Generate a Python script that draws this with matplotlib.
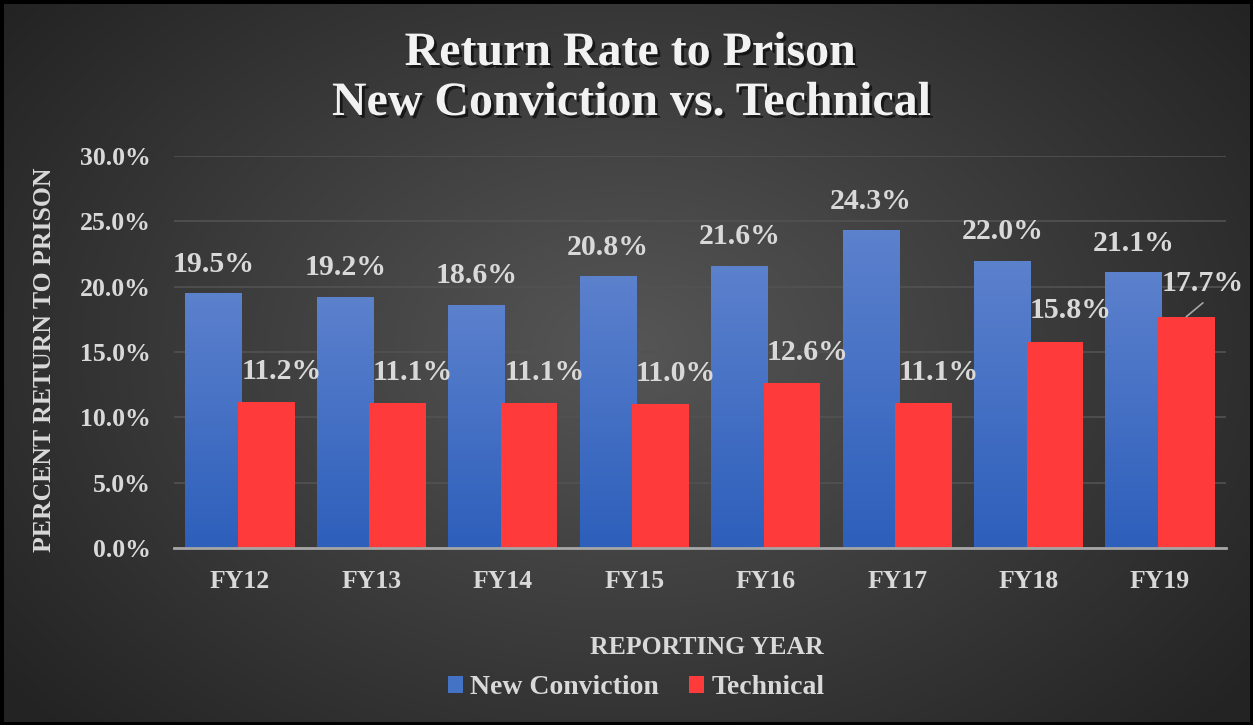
import numpy as np
import matplotlib
matplotlib.use("Agg")
import matplotlib.pyplot as plt
import matplotlib.patheffects as pe
from matplotlib.patches import Rectangle, Patch

# ---- data ----
categories = ["FY12", "FY13", "FY14", "FY15", "FY16", "FY17", "FY18", "FY19"]
new_conviction = [19.5, 19.2, 18.6, 20.8, 21.6, 24.3, 22.0, 21.1]
technical = [11.2, 11.1, 11.1, 11.0, 12.6, 11.1, 15.8, 17.7]
series_names = ["New Conviction", "Technical"]
yticks = [0, 5, 10, 15, 20, 25, 30]
title_lines = ["Return Rate to Prison", "New Conviction vs. Technical"]
xlabel = "REPORTING YEAR"
ylabel = "PERCENT RETURN TO PRISON"

plt.rcParams['font.family'] = ['Liberation Serif', 'DejaVu Serif']
plt.rcParams['font.weight'] = 'bold'
TXT = '#d9d9d9'
W, H = 1253, 725
fig = plt.figure(figsize=(W / 100, H / 100), dpi=100)

# background radial gradient
bg = fig.add_axes([0, 0, 1, 1])
yy, xx = np.mgrid[0:H, 0:W]
r = np.sqrt(((xx - 0.50 * W) / (0.62 * W)) ** 2 + ((yy - 0.48 * H) / (0.75 * H)) ** 2)
r = np.clip(r, 0, 1)
c0 = np.array([0x56, 0x56, 0x56]) / 255
c1 = np.array([0x24, 0x24, 0x24]) / 255
img = c0[None, None, :] * (1 - r[..., None]) + c1[None, None, :] * r[..., None]
bg.imshow(img, extent=[0, 1, 0, 1], aspect='auto', origin='upper')
bg.set_xlim(0, 1); bg.set_ylim(0, 1)
bg.axis('off')
bg.add_patch(Rectangle((0, 0), 1, 1, transform=bg.transAxes, fill=False,
                       edgecolor='black', linewidth=5, zorder=10))

# plot axes
left, right = 174.3 / W, 1225.7 / W
bottom, top = (H - 548) / H, (H - 156) / H
ax = fig.add_axes([left, bottom, right - left, top - bottom])
ax.set_facecolor('none')
x = np.arange(len(categories))
bw = 0.43
off = 0.2

blue_bars = ax.bar(x - off, new_conviction, bw, color='#4472C4', zorder=3)
red_bars = ax.bar(x + off, technical, bw, color='#FF3A3A', zorder=4)

# gradient fill for blue bars
grad = np.linspace(0, 1, 256)[:, None]
top_c = np.array([0x5C, 0x81, 0xCD]) / 255
bot_c = np.array([0x2D, 0x5F, 0xBB]) / 255
gimg = top_c[None, None, :] * (1 - grad[..., None]) + bot_c[None, None, :] * grad[..., None]
for b in blue_bars:
    bx, by, bwid, bh = b.get_x(), b.get_y(), b.get_width(), b.get_height()
    im = ax.imshow(gimg, extent=[bx, bx + bwid, by, by + bh], aspect='auto',
                   origin='upper', zorder=3.5)
    im.set_clip_path(b)

ax.set_xlim(-0.5, len(categories) - 0.5)
ax.set_ylim(0, 30)
ax.set_yticks(yticks)
ax.set_yticklabels([f"{v:.1f}%" for v in yticks], fontsize=18.5, color=TXT, fontweight='bold')
ax.set_xticks(x)
ax.set_xticklabels(categories, fontsize=18.5, color=TXT, fontweight='bold')
ax.tick_params(axis='both', length=0)
ax.tick_params(axis='y', pad=17)
ax.tick_params(axis='x', pad=16)
for s in ['top', 'right', 'left']:
    ax.spines[s].set_visible(False)
ax.spines['bottom'].set_color('#a6a6a6')
ax.spines['bottom'].set_linewidth(2)
ax.spines['bottom'].set_zorder(6)
ax.yaxis.grid(True, color='#525252', linewidth=1.2, zorder=0)
ax.set_axisbelow(True)

# data labels
for i, v in enumerate(new_conviction):
    ax.annotate(f"{v:.1f}%", (x[i] - off, v), xytext=(0, 21), textcoords='offset points',
                ha='center', va='center', fontsize=21.5, color=TXT, fontweight='bold', zorder=7)
for i, v in enumerate(technical):
    dx = 11 if i < len(technical) - 1 else 12
    dy = 22 if i < len(technical) - 1 else 24
    ax.annotate(f"{v:.1f}%", (x[i] + off, v), xytext=(dx, dy), textcoords='offset points',
                ha='center', va='center', fontsize=21.5, color=TXT, fontweight='bold', zorder=7)
# leader line for last technical label
i = len(technical) - 1
ax.annotate("", (x[i] + off, technical[i]), xytext=(12, 10), textcoords='offset points',
            arrowprops=dict(arrowstyle='-', color='#a6a6a6', lw=1.2, shrinkA=0, shrinkB=0), zorder=7)

# titles
shadow = [pe.withSimplePatchShadow(offset=(2, -2), shadow_rgbFace='black', alpha=0.6)]
fig.text(630 / W, 1 - 65 / H, title_lines[0], ha='center', va='baseline', fontsize=34.5,
         color='#f2f2f2', fontweight='bold', path_effects=shadow)
fig.text(631 / W, 1 - 115 / H, title_lines[1], ha='center', va='baseline', fontsize=34.5,
         color='#f2f2f2', fontweight='bold', path_effects=shadow)

fig.text(707 / W, 1 - 647 / H, xlabel, ha='center', va='center', fontsize=18.5,
         color=TXT, fontweight='bold')
fig.text(45 / W, 1 - 360 / H, ylabel, ha='center', va='center', rotation=90,
         fontsize=18.5, color=TXT, fontweight='bold')

handles = [Patch(facecolor='#4472C4'), Patch(facecolor='#FF3A3A')]
leg = fig.legend(handles, series_names, loc='center', bbox_to_anchor=(636 / W, 1 - 688 / H),
                 ncol=2, frameon=False, handlelength=0.55, handleheight=0.55,
                 handletextpad=0.25, columnspacing=1.1, prop={'weight': 'bold', 'size': 20})
for t in leg.get_texts():
    t.set_color(TXT)

fig.savefig("out.png", dpi=100)
